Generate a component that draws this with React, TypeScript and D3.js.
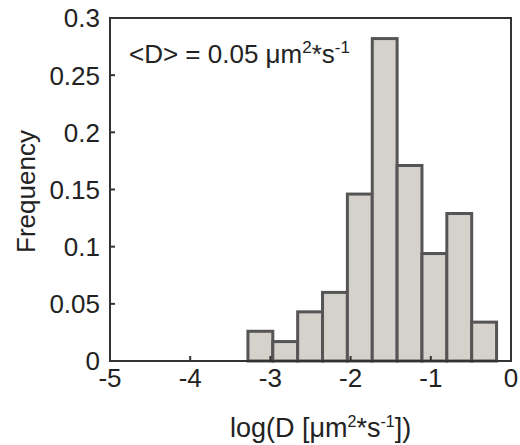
import React from "react";
import * as d3 from "d3";

const binEdges = [-3.28, -2.97, -2.66, -2.35, -2.04, -1.73, -1.42, -1.11, -0.8, -0.49, -0.18];
const frequencies = [0.026, 0.017, 0.043, 0.06, 0.146, 0.282, 0.171, 0.094, 0.129, 0.034];
const xTicks = [-5, -4, -3, -2, -1, 0];
const yTicks = [0, 0.05, 0.1, 0.15, 0.2, 0.25, 0.3];
const yTickLabels = ["0", "0.05", "0.1", "0.15", "0.2", "0.25", "0.3"];

const W = 520;
const H = 445;
const margin = { left: 110, right: 9, top: 18, bottom: 84 };
const FONT = "'Liberation Sans', Arial, sans-serif";

export default function App() {
  const x = d3.scaleLinear().domain([-5, 0]).range([margin.left, W - margin.right]);
  const y = d3.scaleLinear().domain([0, 0.3]).range([H - margin.bottom, margin.top]);
  const x0 = margin.left;
  const x1 = W - margin.right;
  const y0 = H - margin.bottom;
  const y1 = margin.top;
  const textColor = "#222";

  return (
    <svg
      width={W}
      height={H}
      style={{ position: "absolute", left: 0, top: 0, background: "#fff" }}
      fontFamily={FONT}
    >
      {/* bars */}
      {frequencies.map((f, i) => (
        <rect
          key={i}
          x={x(binEdges[i])}
          y={y(f)}
          width={x(binEdges[i + 1]) - x(binEdges[i])}
          height={y(0) - y(f)}
          fill="#d5d2cc"
          stroke="#555"
          strokeWidth={3}
        />
      ))}
      {/* axes box */}
      <path
        d={`M${x0},${y1}H${x1}V${y0}H${x0}Z`}
        fill="none"
        stroke="#333"
        strokeWidth={2}
      />
      {/* y ticks */}
      {yTicks.map((t, i) => (
        <g key={"y" + i}>
          <line x1={x0} x2={x0 + 5} y1={y(t)} y2={y(t)} stroke="#333" strokeWidth={2} />
          <text
            x={x0 - 10}
            y={y(t)}
            dy="0.36em"
            textAnchor="end"
            fontSize={26}
            fill={textColor}
          >
            {yTickLabels[i]}
          </text>
        </g>
      ))}
      {/* x ticks */}
      {xTicks.map((t, i) => (
        <g key={"x" + i}>
          <line x1={x(t)} x2={x(t)} y1={y0} y2={y0 - 5} stroke="#333" strokeWidth={2} />
          <text x={x(t)} y={y0 + 26} textAnchor="middle" fontSize={26} fill={textColor}>
            {t === 0 ? "0" : String(t)}
          </text>
        </g>
      ))}
      {/* y label */}
      <text
        transform={`translate(35,${(y0 + y1) / 2 + 2}) rotate(-90)`}
        textAnchor="middle"
        fontSize={26}
        fill={textColor}
      >
        Frequency
      </text>
      {/* x label */}
      <text x={230} y={437} textAnchor="start" fontSize={27} fill={textColor}>
        log(D [μm
        <tspan fontSize={16} dy={-10}>2</tspan>
        <tspan dy={10}>*s</tspan>
        <tspan fontSize={16} dy={-10}>-1</tspan>
        <tspan dy={10}>])</tspan>
      </text>
      {/* annotation */}
      <text x={129} y={63} fontSize={26} fill={textColor}>
        {"<D> = 0.05 μm"}
        <tspan fontSize={17} dy={-10}>2</tspan>
        <tspan dy={10}>*s</tspan>
        <tspan fontSize={17} dy={-10}>-1</tspan>
      </text>
    </svg>
  );
}
